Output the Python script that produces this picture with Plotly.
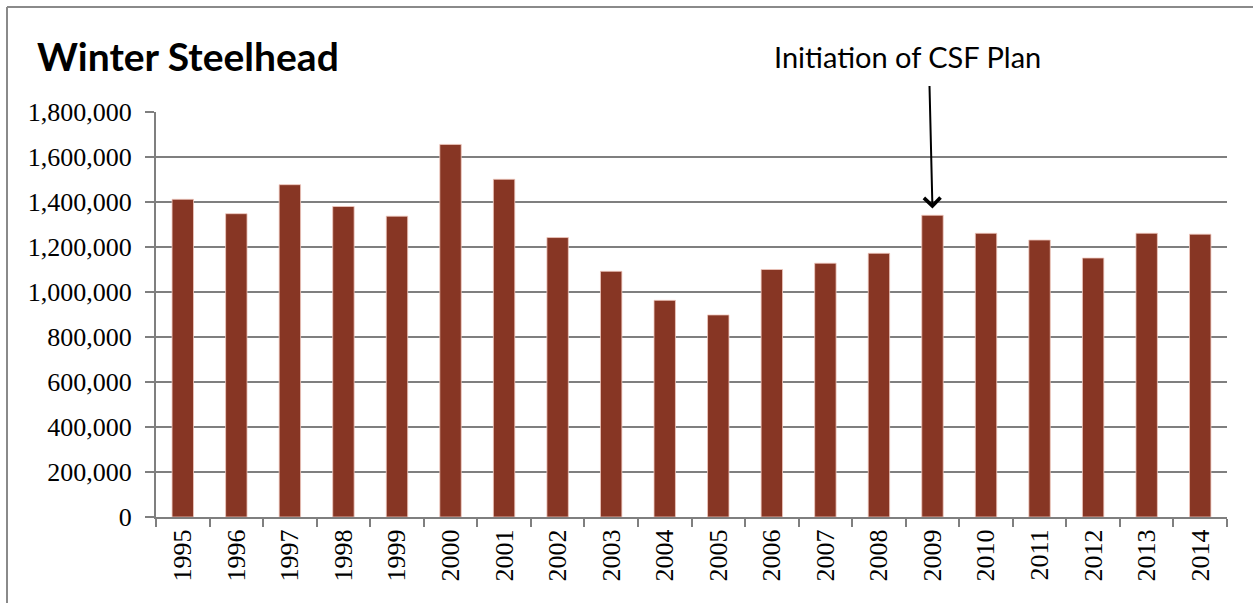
import plotly.graph_objects as go

# Winter steelhead counts by year
years = [str(y) for y in range(1995, 2015)]
counts = [1412000, 1348000, 1477000, 1380000, 1337000, 1656000, 1501000,
          1242000, 1092000, 963000, 898000, 1100000, 1128000, 1172000,
          1341000, 1261000, 1231000, 1151000, 1261000, 1257000]

title_text = "Winter Steelhead"
note_text = "Initiation of CSF Plan"
note_year = "2009"

W, H = 1253, 603
ML, MR, MT, MB = 156, 26, 112, 86
PW, PH = W - ML - MR, H - MT - MB

def px_to_paper_x(px):
    return (px - ML) / PW

def px_to_paper_y(py):
    return (H - MB - py) / PH

bar_color = "#873624"
grid_color = "#7f7f7f"
serif = "Liberation Serif"
sans = "Lato"

fig = go.Figure()
fig.add_trace(go.Bar(
    x=years, y=counts,
    marker=dict(color=bar_color, line=dict(color="rgba(240,200,190,0.8)", width=1)),
    hoverinfo="x+y",
))

fig.update_layout(
    width=W, height=H,
    margin=dict(l=ML, r=MR, t=MT, b=MB),
    paper_bgcolor="white", plot_bgcolor="white",
    bargap=0.6,
    showlegend=False,
    title=dict(text=f"<b>{title_text}</b>", xref="container", yref="container",
               x=37 / W, xanchor="left", y=1 - 57 / H, yanchor="middle",
               font=dict(family=sans, size=39, color="black")),
    xaxis=dict(
        type="category", categoryorder="array", categoryarray=years,
        range=[-0.5, len(years) - 0.5],
        tickson="boundaries", ticks="outside", ticklen=8,
        tickwidth=2, tickcolor=grid_color, showline=True, linecolor=grid_color,
        linewidth=2, tickangle=-90, showgrid=False,
        tickfont=dict(family=serif, size=26, color="black"),
    ),
    yaxis=dict(
        range=[0, 1800000], dtick=200000, tickformat=",", ticks="outside",
        ticklen=9, tickwidth=2, tickcolor=grid_color, showline=True,
        linecolor=grid_color, linewidth=2, showgrid=True, gridcolor=grid_color,
        gridwidth=2, zeroline=False, ticklabelstandoff=8,
        tickfont=dict(family=serif, size=26, color="black"),
    ),
)

# Arrow pointing at the plan's first year
idx = years.index(note_year)
fig.add_annotation(
    x=idx, y=counts[idx] + 30000, xref="x", yref="y",
    text="", showarrow=True, arrowhead=4, arrowsize=1.6, arrowwidth=2,
    arrowcolor="black", ax=-3, ay=-124, axref="pixel", ayref="pixel",
)
fig.add_annotation(
    x=px_to_paper_x(907), y=px_to_paper_y(56), xref="paper", yref="paper",
    text=note_text, showarrow=False, xanchor="center", yanchor="middle",
    font=dict(family=sans, size=29, color="black"),
)

# Chart frame (left and top edges)
fx0, fy0 = px_to_paper_x(7), px_to_paper_y(7)
fig.add_shape(type="line", xref="paper", yref="paper", x0=fx0, x1=fx0,
              y0=fy0, y1=px_to_paper_y(H + 5), line=dict(color="#8a8a8a", width=2))
fig.add_shape(type="line", xref="paper", yref="paper", x0=fx0, x1=px_to_paper_x(W + 5),
              y0=fy0, y1=fy0, line=dict(color="#8a8a8a", width=2))

fig.write_html("out.html")
